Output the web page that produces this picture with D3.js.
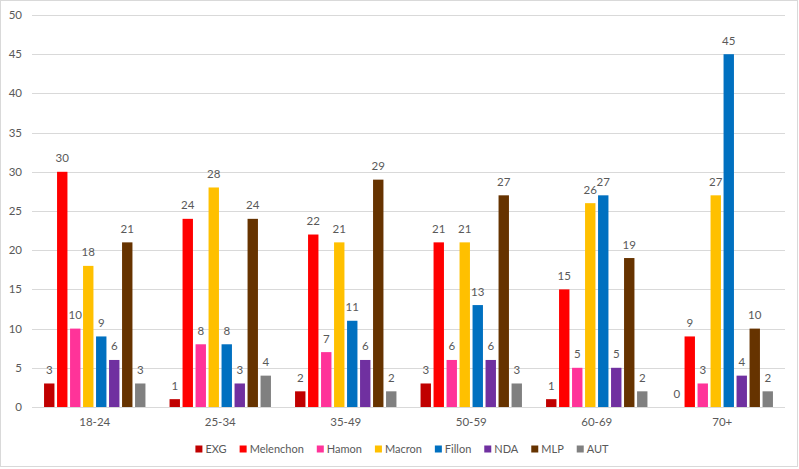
<!DOCTYPE html>
<html><head><meta charset="utf-8">
<script src="https://cdn.jsdelivr.net/npm/d3@7"></script>
<style>
html,body{margin:0;padding:0;background:#fff;}
svg{display:block;}
text{font-family:"Lato","Open Sans",sans-serif;fill:#595959;}
</style></head><body>
<svg id="chart" width="799" height="469"></svg>
<script>
const categories = ["18-24","25-34","35-49","50-59","60-69","70+"];
const seriesNames = ["EXG","Melenchon","Hamon","Macron","Fillon","NDA","MLP","AUT"];
const seriesColors = ["#C00000","#FF0000","#FF3399","#FFC000","#0070C0","#7030A0","#663300","#808080"];
const EXG       = [3,1,2,3,1,0];
const Melenchon = [30,24,22,21,15,9];
const Hamon     = [10,8,7,6,5,3];
const Macron    = [18,28,21,21,26,27];
const Fillon    = [9,8,11,13,27,45];
const NDA       = [6,3,6,6,5,4];
const MLP       = [21,24,29,27,19,10];
const AUT       = [3,4,2,3,2,2];
const yTicks = [0,5,10,15,20,25,30,35,40,45,50];

const seriesValues = [EXG,Melenchon,Hamon,Macron,Fillon,NDA,MLP,AUT];

const svg = d3.select("#chart");
const W = 799, H = 469;
const mLeft = 32, mRight = 785, mTop = 15, mBottom = 407;
const fs = "11.5px";

svg.append("rect").attr("x",0.5).attr("y",0.5).attr("width",W-2).attr("height",H-3)
  .attr("fill","#fff").attr("stroke","#d9d9d9");

const y = d3.scaleLinear().domain([0,50]).range([mBottom, mTop]);
const x0 = d3.scaleBand().domain(categories).range([mLeft, mRight]).padding(0);
const groupW = 104;
const x1 = d3.scaleBand().domain(seriesNames)
  .range([(x0.bandwidth()-groupW)/2, (x0.bandwidth()+groupW)/2]).paddingInner(0.2).paddingOuter(0.1);

// gridlines
svg.append("g").selectAll("line").data(yTicks).join("line")
  .attr("x1",mLeft).attr("x2",mRight)
  .attr("y1",d=>Math.round(y(d))+0.5).attr("y2",d=>Math.round(y(d))+0.5)
  .attr("stroke","#d9d9d9").attr("stroke-width",1);

// y labels
svg.append("g").selectAll("text").data(yTicks).join("text")
  .attr("x",22).attr("y",d=>y(d)).attr("dy","0.35em")
  .attr("text-anchor","end").attr("font-size",fs).text(d=>d);

// bars
const groups = svg.append("g").selectAll("g").data(categories).join("g")
  .attr("transform",c=>`translate(${x0(c)},0)`);

groups.each(function(c, ci){
  const g = d3.select(this);
  const data = seriesNames.map((s,si)=>({s, si, v: seriesValues[si][ci]}));
  g.selectAll("rect").data(data).join("rect")
    .attr("x",d=>x1(d.s)).attr("width",x1.bandwidth())
    .attr("y",d=>y(d.v)).attr("height",d=>y(0)-y(d.v))
    .attr("fill",d=>seriesColors[d.si]);
  g.selectAll("text").data(data).join("text")
    .attr("x",d=>x1(d.s)+x1.bandwidth()/2).attr("y",d=>y(d.v)-9.5)
    .attr("text-anchor","middle").attr("font-size",fs).text(d=>d.v);
});

// category labels
svg.append("g").selectAll("text").data(categories).join("text")
  .attr("x",c=>x0(c)+x0.bandwidth()/2).attr("y",422).attr("dy","0.35em")
  .attr("text-anchor","middle").attr("font-size",fs).text(c=>c);

// legend
const leg = svg.append("g");
let lx = 0;
seriesNames.forEach((s,i)=>{
  const it = leg.append("g");
  it.append("rect").attr("x",0).attr("y",-3.5).attr("width",7).attr("height",7).attr("fill",seriesColors[i]);
  const t = it.append("text").attr("x",10).attr("y",0).attr("dy","0.35em").attr("font-size","11px").text(s);
  const w = 10 + t.node().getComputedTextLength();
  it.attr("transform",`translate(${lx},0)`);
  lx += w + 13;
});
const totalW = lx - 13;
leg.attr("transform",`translate(${402 - totalW/2},449)`);
</script>
</body></html>
